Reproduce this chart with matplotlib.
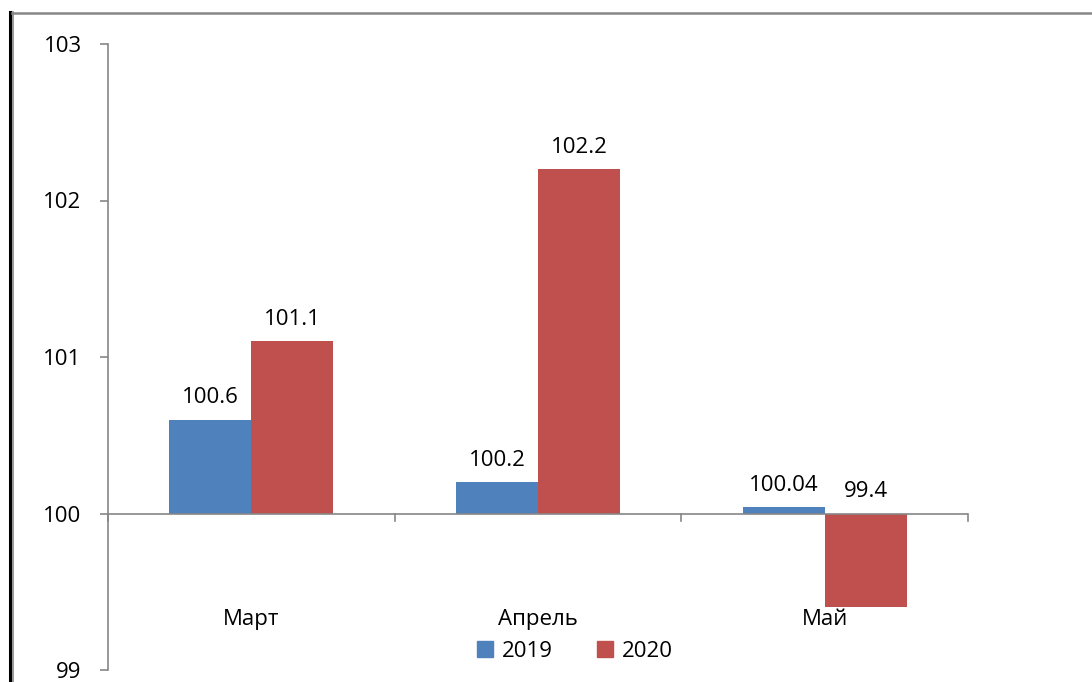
import numpy as np
import matplotlib.pyplot as plt
from matplotlib.lines import Line2D
from matplotlib.patches import Patch

# Данные
months = ['Март', 'Апрель', 'Май']
years = ['2019', '2020']
values_2019 = [100.6, 100.2, 100.04]
values_2020 = [101.1, 102.2, 99.4]
labels_2019 = ['100.6', '100.2', '100.04']
labels_2020 = ['101.1', '102.2', '99.4']
y_ticks = [99, 100, 101, 102, 103]

base = 100
blue = '#4F81BD'
red = '#C0504D'
axis_gray = '#868686'

plt.rcParams['font.family'] = ['Open Sans', 'DejaVu Sans']

fig = plt.figure(figsize=(10.92, 6.82), dpi=100)
ax = fig.add_axes([108 / 1092, 12 / 682, 860 / 1092, 626 / 682])

x = np.arange(len(months))
w = 0.286

b1 = ax.bar(x - w / 2, np.array(values_2019) - base, width=w, bottom=base, color=blue)
b2 = ax.bar(x + w / 2, np.array(values_2020) - base, width=w, bottom=base, color=red)

# подписи данных (над баром или над осью для отрицательных)
for xs, vals, labs in [(x - w / 2, values_2019, labels_2019), (x + w / 2, values_2020, labels_2020)]:
    for xi, v, lab in zip(xs, vals, labs):
        ax.annotate(lab, (xi, max(v, base)), xytext=(0, 8), textcoords='offset points',
                    ha='center', va='bottom', fontsize=16)

ax.set_xlim(-0.5, len(months) - 0.5)
ax.set_ylim(min(y_ticks), max(y_ticks))
ax.set_yticks(y_ticks)
ax.tick_params(axis='y', length=6, width=1.2, color=axis_gray, pad=13, labelsize=16)

# горизонтальная ось на уровне 100
ax.axhline(base, color=axis_gray, lw=1.2, zorder=3)
ax.set_xticks([])
for xb in np.arange(-0.5, len(months), 1.0):
    ax.plot([xb, xb], [base, base - 0.05], color=axis_gray, lw=1.2, clip_on=False)

for sp in ['top', 'right', 'bottom']:
    ax.spines[sp].set_visible(False)
ax.spines['left'].set_color(axis_gray)
ax.spines['left'].set_linewidth(1.2)

# подписи категорий
for xi, m in zip(x, months):
    ax.text(xi, 0.08, m, transform=ax.get_xaxis_transform(), ha='center', va='center', fontsize=16)

handles = [Patch(color=blue), Patch(color=red)]
ax.legend(handles, years, loc='center', bbox_to_anchor=(0.543, 0.03), ncol=2, frameon=False,
          fontsize=16, handlelength=0.7, handleheight=0.7, handletextpad=0.4, columnspacing=2.0)

# рамка
fig.add_artist(Line2D([9.5 / 1092, 9.5 / 1092], [0, 1 - 12 / 682], color='black', lw=2.2))
fig.add_artist(Line2D([13 / 1092, 13 / 1092], [0, 1 - 12 / 682], color=axis_gray, lw=1.2))
fig.add_artist(Line2D([12 / 1092, 1], [1 - 12.5 / 682, 1 - 12.5 / 682], color=axis_gray, lw=1.8))

fig.savefig('out.png', dpi=100)
